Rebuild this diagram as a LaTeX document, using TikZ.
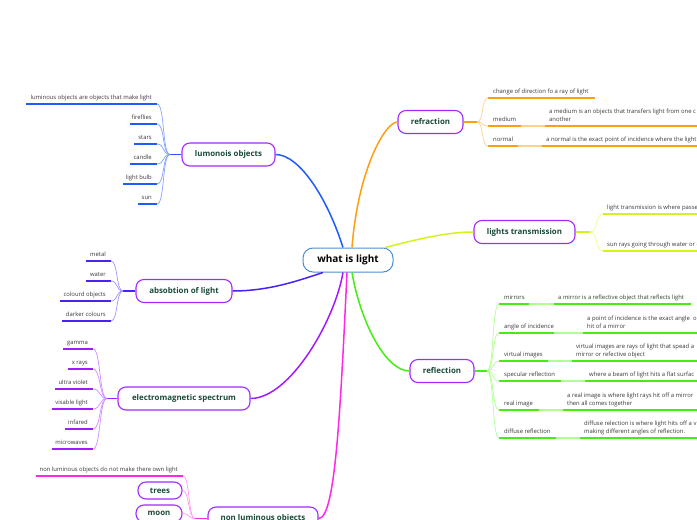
\documentclass[tikz,border=0pt]{standalone}
\usepackage{fontspec}
\setmainfont{Open Sans}
\definecolor{cBlue}{HTML}{1F5BFF}
\definecolor{cBlueL}{HTML}{86A4FF}
\definecolor{cInd}{HTML}{4A22F5}
\definecolor{cIndL}{HTML}{A393FF}
\definecolor{cPur}{HTML}{A21BFF}
\definecolor{cPurL}{HTML}{D08CFF}
\definecolor{cMag}{HTML}{FF28E4}
\definecolor{cMagL}{HTML}{FF9CF2}
\definecolor{cOra}{HTML}{FF9E12}
\definecolor{cOraL}{HTML}{FFD08A}
\definecolor{cYel}{HTML}{D6F21E}
\definecolor{cYelL}{HTML}{EDFF8A}
\definecolor{cGre}{HTML}{44EE11}
\definecolor{cGreL}{HTML}{B0FF90}
\definecolor{topicBorder}{HTML}{A32BFF}
\definecolor{topicText}{HTML}{1B4A3A}
\definecolor{centerBorder}{HTML}{4A8FD4}
\definecolor{leafText}{HTML}{3A3A3A}
\tikzset{
 lf/.style={font=\fontsize{5.9}{8}\selectfont, text=leafText, inner sep=0pt},
 ul/.style={draw=#1, line width=1.6pt},
 cv/.style={draw=#1, line width=0.7pt},
 pl/.style={draw=#1, line width=1.2pt},
 br/.style={draw=#1, line width=1.5pt},
 topic/.style={draw=topicBorder, line width=1.1pt, rounded corners=8pt, fill=white,
   font=\bfseries\fontsize{7.9}{9}\selectfont, text=topicText, minimum height=23pt, inner sep=0pt},
 centre/.style={draw=centerBorder, line width=1pt, rounded corners=10pt, fill=white,
   font=\bfseries\fontsize{10}{11}\selectfont, text=black, minimum width=90pt, minimum height=24pt, inner sep=0pt},
}
\newcommand{\LeafL}[6]{%
  \coordinate (#1a) at (#2,#4);
  \coordinate (#1b) at (#3,#4);
  \node[lf, anchor=base east] (#1) at ([xshift=-5pt,yshift=4.5pt]#1b) {#6};
  \draw[ul=#5] (#1a) -- (#1b);}
\newcommand{\LeafR}[6]{%
  \coordinate (#1a) at (#2,#4);
  \coordinate (#1b) at (#3,#4);
  \node[lf, anchor=base west] (#1) at ([xshift=5pt,yshift=4.5pt]#1a) {#6};
  \draw[ul=#5] (#1a) -- (#1b);}
\newcommand{\DescR}[6]{%
  \coordinate (#1a) at (#2,#4);
  \coordinate (#1b) at (#3,#4);
  \node[lf, anchor=south west, align=left] (#1) at ([xshift=4pt,yshift=2.1pt]#1a) {#6\strut};
  \draw[ul=#5] (#1a) -- (#1b);}
\begin{document}
\begin{tikzpicture}[x=1pt,y=-1pt]
\useasboundingbox (0,0) rectangle (697,520);
\fill[white] (0,0) rectangle (697,520);
\begin{scope}
\clip (0,0) rectangle (697,520);

% central and topic nodes
\node[centre] (c) at (348,260) {what is light};
\node[topic, minimum width=93pt] (lum) at (228.5,154.5) {lumonois objects};
\node[topic, minimum width=96pt] (abs) at (184,291) {absobtion of light};
\node[topic, minimum width=132pt] (ems) at (184,398.5) {electromagnetic spectrum};
\node[topic, minimum width=110pt] (non) at (263,518.5) {non luminous objects};
\node[topic, minimum width=65pt] (ref) at (430.5,122) {refraction};
\node[topic, minimum width=101pt] (tra) at (524.5,232) {lights transmission};
\node[topic, minimum width=64pt] (rfl) at (442,371) {reflection};
\node[topic, minimum width=44pt, minimum height=17pt] (tre) at (160,490.5) {trees};
\node[topic, minimum width=46pt, minimum height=17pt] (moo) at (159,513.5) {moon};

% main connectors
\draw[br=cBlue] (lum.east) .. controls (300,154.5) and (328,200) .. ([xshift=-5pt]c.north);
\draw[br=cOra] (ref.west) .. controls (385,122) and (358,170) .. ([xshift=4pt]c.north);
\draw[br=cYel] ([xshift=37pt]c.north) .. controls (415,240) and (445,232) .. (tra.west);
\draw[br=cInd] (abs.east) .. controls (270,291) and (300,280) .. ([xshift=-25pt]c.south);
\draw[br=cPur] (ems.east) .. controls (290,398.5) and (335,320) .. ([xshift=-5pt]c.south);
\draw[br=cMag] (non.east) .. controls (335,518.5) and (340,420) .. ([xshift=-1pt]c.south);
\draw[br=cGre] ([xshift=4pt]c.south) .. controls (360,320) and (385,371) .. (rfl.west);

% lumonois objects
\coordinate (jlum) at (170,154.5);
\draw[br=cBlue] (lum.west) -- (jlum);
\LeafL{l0}{26}{157}{104}{cBlue}{luminous objects are objects that make light}
\LeafL{l1}{130}{157}{124}{cBlue}{fireflies}
\LeafL{l2}{134}{157}{144}{cBlue}{stars}
\LeafL{l3}{130}{157}{164}{cBlue}{candle}
\LeafL{l4}{123}{157}{184}{cBlue}{light bulb}
\LeafL{l5}{138}{157}{204}{cBlue}{sun}
\foreach \n in {l0b,l1b,l2b,l3b,l4b,l5b}
  \draw[cv=cBlueL] (jlum) .. controls +(-8,0) and +(8,0) .. (\n);

% absobtion of light
\coordinate (jabs) at (123,291);
\draw[br=cInd] (abs.west) -- (jabs);
\LeafL{a1}{86}{111}{261}{cInd}{metal}
\LeafL{a2}{86}{111}{281}{cInd}{water}
\LeafL{a3}{60}{111}{301}{cInd}{colourd objects}
\LeafL{a4}{62}{111}{321}{cInd}{darker colours}
\foreach \n in {a1b,a2b,a3b,a4b}
  \draw[cv=cIndL] (jabs) .. controls +(-7,0) and +(7,0) .. (\n);

% electromagnetic spectrum
\coordinate (jems) at (107,398.5);
\draw[br=cPur] (ems.west) -- (jems);
\LeafL{e1}{63}{93}{349}{cPur}{gamma}
\LeafL{e2}{68}{93}{369}{cPur}{x rays}
\LeafL{e3}{55}{93}{389}{cPur}{ultra violet}
\LeafL{e4}{52}{93}{409}{cPur}{visable light}
\LeafL{e5}{65}{93}{429}{cPur}{infared}
\LeafL{e6}{52}{93}{449}{cPur}{microwaves}
\foreach \n in {e1b,e2b,e3b,e4b,e5b,e6b}
  \draw[cv=cPurL] (jems) .. controls +(-8,0) and +(8,0) .. (\n);

% non luminous objects
\coordinate (jnon) at (195,518.5);
\draw[br=cMag] (non.west) -- (jnon);
\LeafL{n0}{36}{183}{476}{cMag}{non luminous objects do not make there own light}
\foreach \n in {n0b,tre.east,moo.east}
  \draw[cv=cMagL] (jnon) .. controls +(-7,0) and +(7,0) .. (\n);

% refraction
\coordinate (jref) at (477,122);
\draw[br=cOra] (ref.east) -- (jref);
\LeafR{r1}{488}{595}{98}{cOra}{change of direction fo a ray of light}
\LeafR{r2}{488}{521}{126}{cOra}{medium}
\DescR{r2d}{545}{700}{126}{cOra}{a medium is an objects that transfers light from one c\\another}
\draw[pl=cOraL] (r2b) -- (r2da);
\LeafR{r3}{488}{518}{146}{cOra}{normal}
\DescR{r3d}{542}{700}{146}{cOra}{a normal is the exact point of incidence where the light}
\draw[pl=cOraL] (r3b) -- (r3da);
\foreach \n in {r1a,r2a,r3a}
  \draw[cv=cOraL] (jref) .. controls +(7,0) and +(-7,0) .. (\n);

% lights transmission
\coordinate (jtra) at (590,232);
\draw[br=cYel] (tra.east) -- (jtra);
\DescR{t1}{603}{700}{214}{cYel}{light transmission is where passe}
\DescR{t2}{603}{700}{251}{cYel}{sun rays going through water or c}
\foreach \n in {t1a,t2a}
  \draw[cv=cYelL] (jtra) .. controls +(8,0) and +(-8,0) .. (\n);

% reflection
\coordinate (jrfl) at (487,371);
\draw[br=cGre] (rfl.east) -- (jrfl);
\LeafR{g1}{499}{529}{304}{cGre}{mirrors}
\DescR{g1d}{554}{691}{304}{cGre}{a mirror is a reflective object that reflects light}
\LeafR{g2}{499}{554}{333}{cGre}{angle of incidence}
\DescR{g2d}{583}{700}{333}{cGre}{a point of incidence is the exact angle\ \ o\\hit of a mirror}
\LeafR{g3}{499}{548}{361}{cGre}{virtual images}
\DescR{g3d}{572}{700}{361}{cGre}{virtual images are rays of light that spead a\\mirror or refective object}
\LeafR{g4}{499}{561}{381}{cGre}{specular reflection}
\DescR{g4d}{585}{700}{381}{cGre}{where a beam of light hits a flat surfac}
\LeafR{g5}{499}{539}{410}{cGre}{real image}
\DescR{g5d}{563}{700}{410}{cGre}{a real image is where light rays hit off a mirror\\then all comes together}
\LeafR{g6}{499}{556}{438}{cGre}{diffuse reflection}
\DescR{g6d}{580}{700}{438}{cGre}{diffuse relection is where light hits off a v\\making different angles of reflection.}
\foreach \p in {g1,g2,g3,g4,g5,g6}
  \draw[pl=cGreL] (\p b) -- (\p da);
\foreach \n in {g1a,g2a,g3a,g4a,g5a,g6a}
  \draw[cv=cGreL] (jrfl) .. controls +(7,0) and +(-7,0) .. (\n);
\end{scope}
\end{tikzpicture}
\end{document}
